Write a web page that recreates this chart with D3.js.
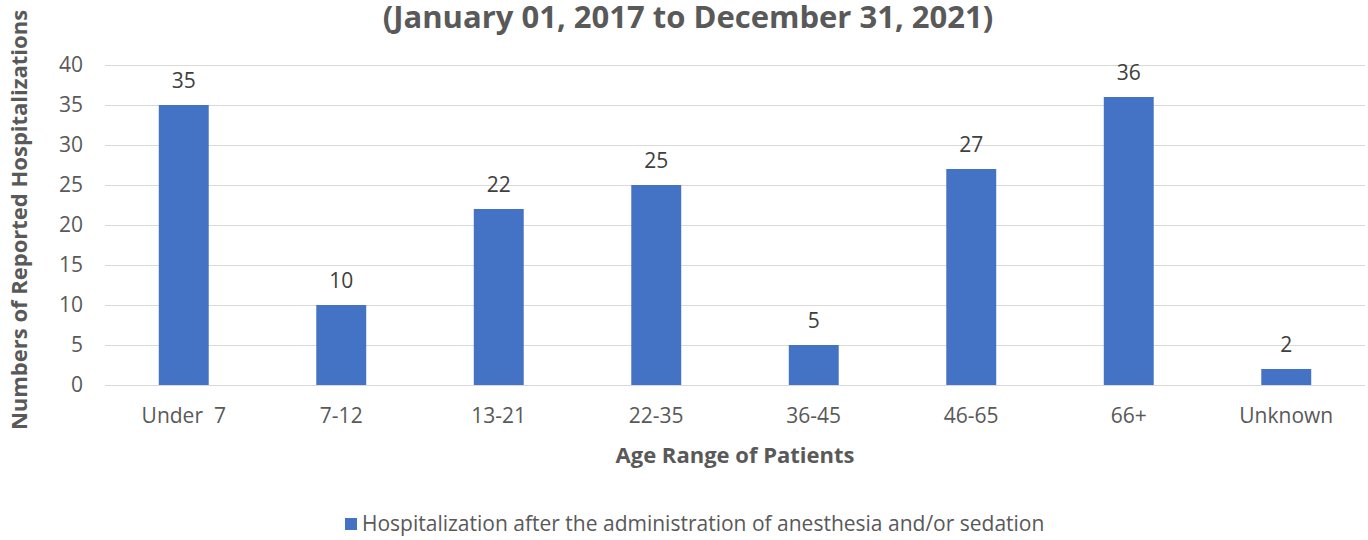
<!DOCTYPE html>
<html>
<head>
<meta charset="utf-8">
<script src="https://cdn.jsdelivr.net/npm/d3@7"></script>
<style>
  body { margin: 0; background: #fff; }
  svg { font-family: "Open Sans", sans-serif; }
</style>
</head>
<body>
<svg id="drawing_region"></svg>
<script>
// categories and values
const categories = ["Under  7", "7-12", "13-21", "22-35", "36-45", "46-65", "66+", "Unknown"];
const values = [35, 10, 22, 25, 5, 27, 36, 2];
const yTicks = [0, 5, 10, 15, 20, 25, 30, 35, 40];
const seriesName = "Hospitalization after the administration of anesthesia and/or sedation";

const width = 1368, height = 540;
const margin = { top: 65, right: 3, bottom: 155, left: 105 };

const svg = d3.select('#drawing_region')
    .attr('width', width)
    .attr('height', height);

const x = d3.scaleBand()
    .domain(categories)
    .range([margin.left, width - margin.right])
    .paddingInner(0.683)
    .paddingOuter(0.3415);

const y = d3.scaleLinear()
    .domain([0, 40])
    .range([height - margin.bottom, margin.top]);

// gridlines
svg.append('g')
    .selectAll('line')
    .data(yTicks)
    .join('line')
    .attr('x1', margin.left)
    .attr('x2', width - margin.right)
    .attr('y1', d => y(d) + 0.5)
    .attr('y2', d => y(d) + 0.5)
    .attr('stroke', '#d9d9d9')
    .attr('stroke-width', 1);

// y tick labels
svg.append('g')
    .selectAll('text')
    .data(yTicks)
    .join('text')
    .attr('x', 83)
    .attr('y', d => y(d))
    .attr('dy', '0.35em')
    .attr('text-anchor', 'end')
    .attr('fill', '#595959')
    .style('font-size', '21px')
    .text(d => d);

// bars
svg.append('g')
    .selectAll('rect')
    .data(values)
    .join('rect')
    .attr('x', (d, i) => x(categories[i]))
    .attr('width', x.bandwidth())
    .attr('y', d => y(d))
    .attr('height', d => y(0) - y(d))
    .attr('fill', '#4472c4');

// data labels
svg.append('g')
    .selectAll('text')
    .data(values)
    .join('text')
    .attr('x', (d, i) => x(categories[i]) + x.bandwidth() / 2)
    .attr('y', d => y(d) - 17)
    .attr('text-anchor', 'middle')
    .attr('fill', '#404040')
    .style('font-size', '21px')
    .text(d => d);

// category labels
svg.append('g')
    .selectAll('text')
    .data(categories)
    .join('text')
    .attr('x', d => x(d) + x.bandwidth() / 2)
    .attr('y', 423)
    .attr('text-anchor', 'middle')
    .attr('fill', '#595959')
    .style('font-size', '21px')
    .style('white-space', 'pre')
    .text(d => d);

// title (second line visible)
svg.append('text')
    .attr('x', 688)
    .attr('y', 28)
    .attr('text-anchor', 'middle')
    .attr('fill', '#595959')
    .style('font-size', '31px')
    .style('font-weight', 'bold')
    .text('(January 01, 2017 to December 31, 2021)');

// axis titles
svg.append('text')
    .attr('x', 735)
    .attr('y', 463)
    .attr('text-anchor', 'middle')
    .attr('fill', '#595959')
    .style('font-size', '22px')
    .style('font-weight', 'bold')
    .text('Age Range of Patients');

svg.append('text')
    .attr('transform', 'translate(19, 220) rotate(-90)')
    .attr('dy', '0.35em')
    .attr('text-anchor', 'middle')
    .attr('fill', '#595959')
    .style('font-size', '22px')
    .style('font-weight', 'bold')
    .text('Numbers of Reported Hospitalizations');

// legend
const legend = svg.append('g').attr('transform', 'translate(345, 518)');
legend.append('rect')
    .attr('width', 12)
    .attr('height', 12)
    .attr('fill', '#4472c4');
legend.append('text')
    .attr('x', 17)
    .attr('y', 6)
    .attr('dy', '0.35em')
    .attr('fill', '#595959')
    .style('font-size', '21px')
    .text(seriesName);
</script>
</body>
</html>
